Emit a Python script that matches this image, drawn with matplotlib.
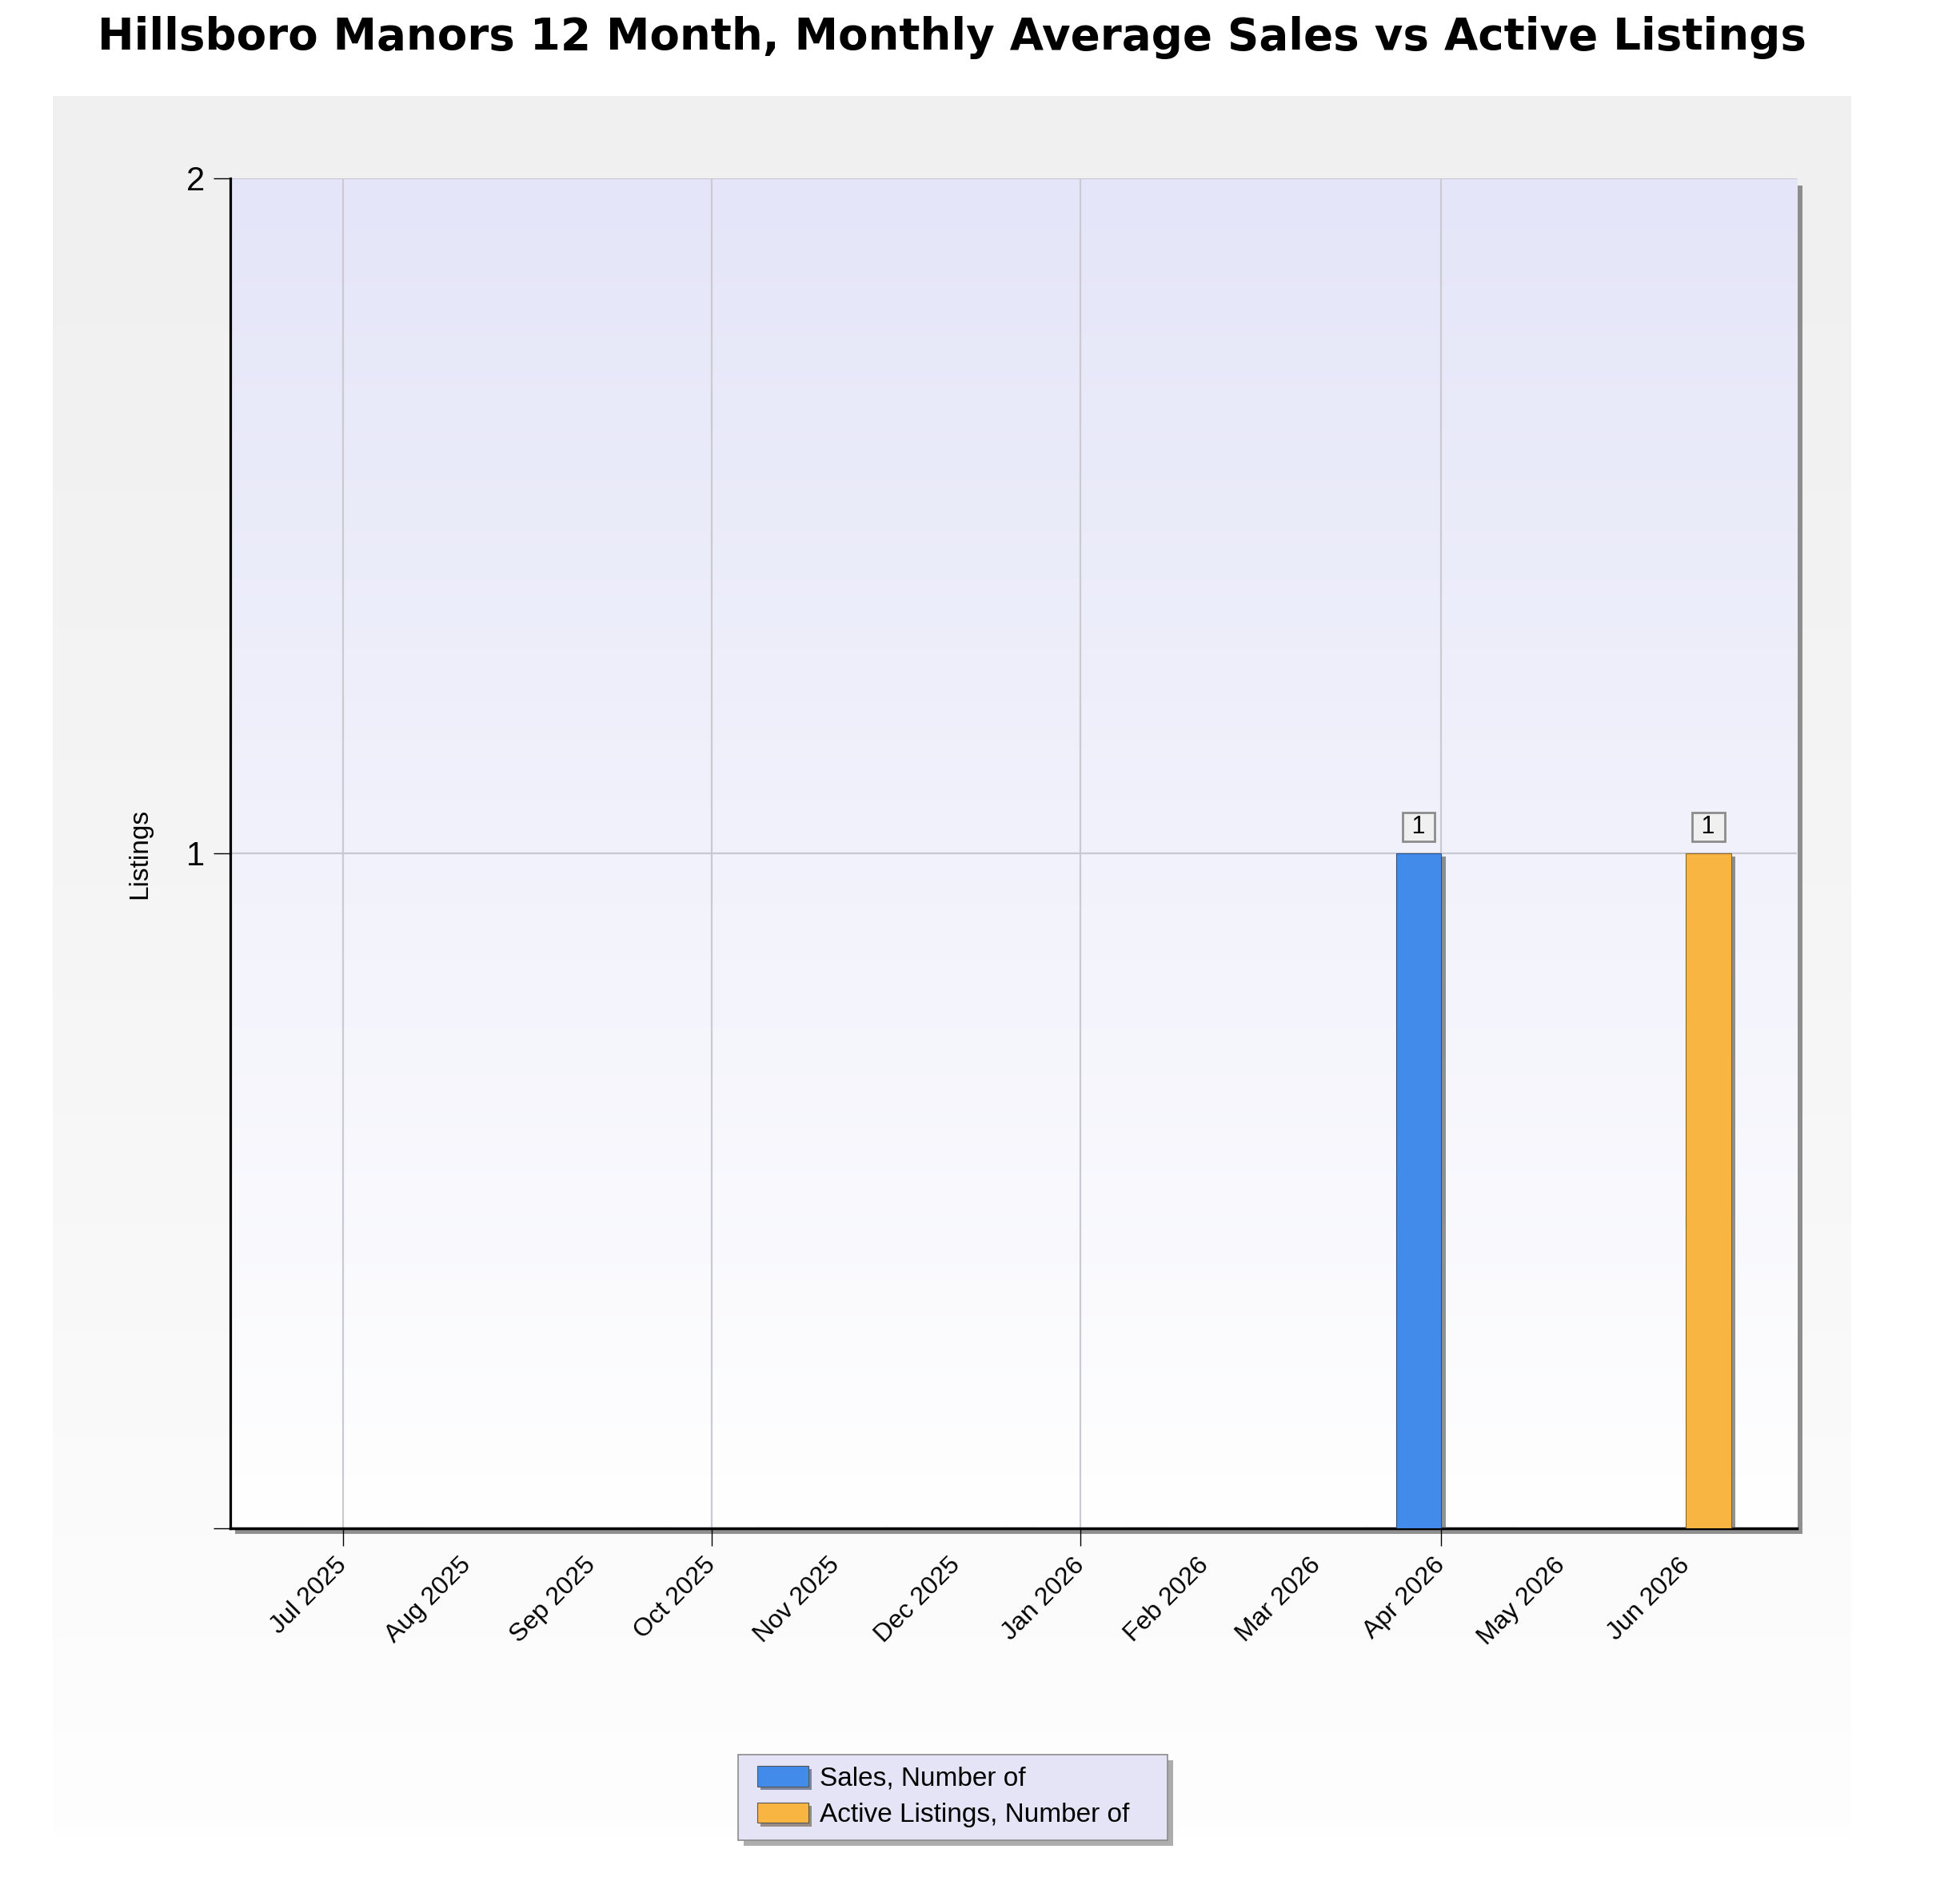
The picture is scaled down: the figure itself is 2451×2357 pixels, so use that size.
import numpy as np
import pandas as pd
import matplotlib
matplotlib.use("Agg")
from matplotlib import pyplot as plt
import matplotlib.dates as mdates
import matplotlib.patheffects as pe
from matplotlib.patches import Rectangle, Patch

# data
months = ['Jul 2025', 'Aug 2025', 'Sep 2025', 'Oct 2025', 'Nov 2025', 'Dec 2025',
          'Jan 2026', 'Feb 2026', 'Mar 2026', 'Apr 2026', 'May 2026', 'Jun 2026']
sales = [0, 0, 0, 0, 0, 0, 0, 0, 0, 1, 0, 0]
active = [0, 0, 0, 0, 0, 0, 0, 0, 0, 0, 0, 1]
series_names = ['Sales, Number of', 'Active Listings, Number of']
series_colors = ['#428bea', '#f8b542']
y_ticks = [0, 1, 2]
y_ticklabels = ['', '1', '2']

W, H = 2451, 2357
fig = plt.figure(figsize=(W / 100, H / 100), dpi=100)
fig.patch.set_facecolor('white')

def fx(px):
    return px / W

def fy(py):
    return 1 - py / H

# outer grey panel with a soft vertical gradient
bg = fig.add_axes([fx(66), fy(2295), fx(2315 - 66), (2295 - 120) / H], zorder=0)
grad = np.linspace(0, 1, 256)[:, None]
c_top = np.array([240, 240, 240]) / 255
c_bot = np.array([254, 254, 254]) / 255
bg.imshow(c_top + (c_bot - c_top) * grad[..., None] ** 1.3 * np.ones((1, 2, 1)),
          aspect='auto', extent=(0, 1, 0, 1))
bg.set_axis_off()

# shadow of the plot area
fig.patches.append(Rectangle((fx(294), fy(1918)), fx(2254 - 294), (1918 - 232) / H,
                             transform=fig.transFigure, facecolor='#7c7c7c',
                             edgecolor='none', zorder=0.5, alpha=0.85))

left, right, top, bottom = 288, 2247, 223, 1911
ax = fig.add_axes([fx(left), fy(bottom), fx(right - left), (bottom - top) / H], zorder=1)

# plot area gradient: lavender at top to white at bottom
p_top = np.array([228, 229, 248]) / 255
p_bot = np.array([255, 255, 255]) / 255
ax.imshow(p_top + (p_bot - p_top) * grad[..., None] * np.ones((1, 2, 1)),
          aspect='auto', extent=(0, 1, 0, 1), transform=ax.transAxes, zorder=0)

dates = pd.to_datetime(months, format='%b %Y')
xnum = mdates.date2num(dates)
bar_w = 11.3

shadow = [pe.SimplePatchShadow(offset=(4, -3), shadow_rgbFace='#4a4a4a', alpha=0.6), pe.Normal()]
ax.bar(xnum, sales, width=-bar_w, align='edge', color=series_colors[0],
       edgecolor='#2a4f80', linewidth=0.8, zorder=3, path_effects=shadow)
ax.bar(xnum, active, width=bar_w, align='edge', color=series_colors[1],
       edgecolor='#8a6420', linewidth=0.8, zorder=3, path_effects=shadow)

# value labels
for vals, sign in [(sales, -1), (active, 1)]:
    for x, v in zip(xnum, vals):
        if v > 0:
            ax.annotate(' %d ' % v, (x + sign * bar_w / 2, v), xytext=(0, 24),
                        textcoords='offset points', ha='center', va='center',
                        fontsize=22, family='Liberation Sans', zorder=5,
                        bbox=dict(boxstyle='square,pad=0.1', fc='#f0f0f0',
                                  ec='#8c8c8c', lw=2))

ax.set_xlim(xnum[0] - 28.2, xnum[-1] + 27.7)
ax.set_ylim(0, 2)

# monthly labels, quarterly ticks + grid
ax.xaxis.remove_overlapping_locs = False
ax.set_xticks(xnum)
ax.set_xticklabels(months, rotation=45, ha='right', va='center',
                   rotation_mode='anchor', fontsize=23, family='Liberation Sans')
ax.tick_params(axis='x', which='major', length=0, pad=30)
ax.set_xticks(xnum[::3], minor=True)
ax.tick_params(axis='x', which='minor', length=16, width=1, color='black',
               direction='out')
ax.grid(True, axis='x', which='minor', color='#cacad2', linewidth=1.6)
ax.grid(False, axis='x', which='major')

ax.set_yticks(y_ticks)
ax.set_yticklabels(y_ticklabels, fontsize=30, family='Liberation Sans')
ax.tick_params(axis='y', length=15, width=1, pad=8, direction='out')
ax.grid(True, axis='y', color='#c8c8d2', linewidth=1.6)
ax.set_axisbelow(True)

ax.set_ylabel('Listings', fontsize=24, family='Liberation Sans', labelpad=0)
ax.yaxis.set_label_coords(-(left - 190) / (right - left), 0.5)

for s in ['top', 'right']:
    ax.spines[s].set_visible(False)
ax.spines['left'].set_linewidth(2.3)
ax.spines['bottom'].set_linewidth(2.5)

fig.text(fx(1190), fy(47), 'Hillsboro Manors 12 Month, Monthly Average Sales vs Active Listings',
         ha='center', va='center', fontsize=39.3, fontweight='bold', family='DejaVu Sans')

# legend box with its shadow
fig.patches.append(Rectangle((fx(930), fy(2308)), fx(537), 107 / H, transform=fig.transFigure,
                             facecolor='#8a8a8a', edgecolor='none', alpha=0.7, zorder=2))
fig.patches.append(Rectangle((fx(923), fy(2301)), fx(537), 107 / H, transform=fig.transFigure,
                             facecolor='#e4e4f6', edgecolor='#8c8c8c', linewidth=1.2, zorder=2.1))

handles = [Patch(facecolor=c, edgecolor='#555555', linewidth=0.8,
                 path_effects=[pe.SimplePatchShadow(offset=(3, -3), alpha=0.5), pe.Normal()])
           for c in series_colors]
leg = fig.legend(handles, series_names, loc='upper left',
                 bbox_to_anchor=(fx(947), fy(2208)),
                 prop={'family': 'Liberation Sans', 'size': 24},
                 frameon=False, handlelength=1.92, handleheight=0.82, handletextpad=0.42,
                 labelspacing=0.42, borderpad=0, borderaxespad=0)
leg.set_zorder(3)

fig.savefig('out.png', dpi=100)
